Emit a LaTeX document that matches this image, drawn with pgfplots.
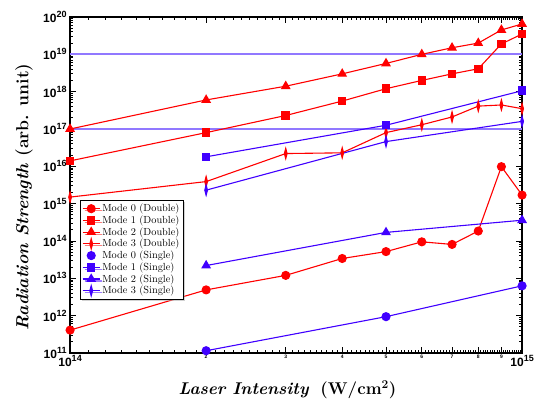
\documentclass[border=0pt]{standalone}
\usepackage{fontspec}
\setsansfont{Liberation Sans}
\usepackage{pgfplots}
\pgfplotsset{compat=1.18}
\usetikzlibrary{shadows}
\definecolor{myred}{RGB}{255,0,0}
\definecolor{myblue}{RGB}{64,0,255}
\definecolor{lav}{RGB}{145,120,255}
\newcommand{\ylab}[1]{{\sffamily\bfseries\fontsize{12}{12}\selectfont 10\raisebox{0.42em}{\fontsize{9}{9}\selectfont #1}}}
\newcommand{\xd}[1]{{\sffamily\bfseries\fontsize{5}{5}\selectfont #1}}
\begin{document}
\begin{tikzpicture}
\path[use as bounding box] (-70pt,-46pt) rectangle (468pt,353pt);
\begin{axis}[
  at={(0,0)}, anchor=south west,
  scale only axis, width=452pt, height=336pt,
  xmode=log, ymode=log,
  xmin=1e14, xmax=1e15, ymin=1e11, ymax=1e20,
  clip=false,
  axis line style={line width=1.5pt},
  every tick/.style={black, line width=0.9pt},
  major tick length=6pt, minor tick length=3pt,
  xtick={1e14,2e14,3e14,4e14,5e14,6e14,7e14,8e14,9e14,1e15},
  xticklabels={\ylab{14},\xd{2},\xd{3},\xd{4},\xd{5},\xd{6},\xd{7},\xd{8},\xd{9},\ylab{15}},
  xticklabel style={inner sep=2pt},
  minor xtick={1.1e14,1.2e14,1.3e14,1.4e14,1.5e14,1.6e14,1.7e14,1.8e14,1.9e14,
    2.1e14,2.2e14,2.3e14,2.4e14,2.5e14,2.6e14,2.7e14,2.8e14,2.9e14,
    3.1e14,3.2e14,3.3e14,3.4e14,3.5e14,3.6e14,3.7e14,3.8e14,3.9e14,
    4.1e14,4.2e14,4.3e14,4.4e14,4.5e14,4.6e14,4.7e14,4.8e14,4.9e14,
    5.1e14,5.2e14,5.3e14,5.4e14,5.5e14,5.6e14,5.7e14,5.8e14,5.9e14,
    6.1e14,6.2e14,6.3e14,6.4e14,6.5e14,6.6e14,6.7e14,6.8e14,6.9e14,
    7.1e14,7.2e14,7.3e14,7.4e14,7.5e14,7.6e14,7.7e14,7.8e14,7.9e14,
    8.1e14,8.2e14,8.3e14,8.4e14,8.5e14,8.6e14,8.7e14,8.8e14,8.9e14,
    9.1e14,9.2e14,9.3e14,9.4e14,9.5e14,9.6e14,9.7e14,9.8e14,9.9e14},
  ytick={1e11,1e12,1e13,1e14,1e15,1e16,1e17,1e18,1e19,1e20},
  yticklabels={\ylab{11},\ylab{12},\ylab{13},\ylab{14},\ylab{15},\ylab{16},\ylab{17},\ylab{18},\ylab{19},\ylab{20}},
  minor ytick={2e11,3e11,4e11,5e11,6e11,7e11,8e11,9e11,
    2e12,3e12,4e12,5e12,6e12,7e12,8e12,9e12,
    2e13,3e13,4e13,5e13,6e13,7e13,8e13,9e13,
    2e14,3e14,4e14,5e14,6e14,7e14,8e14,9e14,
    2e15,3e15,4e15,5e15,6e15,7e15,8e15,9e15,
    2e16,3e16,4e16,5e16,6e16,7e16,8e16,9e16,
    2e17,3e17,4e17,5e17,6e17,7e17,8e17,9e17,
    2e18,3e18,4e18,5e18,6e18,7e18,8e18,9e18,
    2e19,3e19,4e19,5e19,6e19,7e19,8e19,9e19},
  xlabel={\fontsize{17}{20}\selectfont\bfseries\itshape Laser Intensity\hspace{0.7em}\upshape (W/cm\textsuperscript{2})},
  xlabel style={at={(axis description cs:0.481,0)}, anchor=base, yshift=-42pt},
  ylabel={\fontsize{17.5}{20}\selectfont\bfseries\itshape Radiation Strength \upshape (arb. unit)},
  ylabel style={at={(axis description cs:-0.1018,0.465)}, anchor=center},
  legend cell align=left,
  legend style={at={(axis description cs:0.022,0.4554)}, anchor=north west,
    draw=black, line width=0.6pt, fill=white,
    drop shadow={shadow xshift=2pt, shadow yshift=-2pt, fill=gray!70},
    font=\fontsize{10.3}{11}\selectfont, row sep=-1.5pt, inner sep=1.8pt},
  every axis plot/.append style={line width=1.1pt},
]
\addplot[lav, line width=2.2pt, forget plot] coordinates {(1e14,1e19)(1e15,1e19)};
\addplot[lav, line width=1.1pt, forget plot] coordinates {(1e14,1e17)(1e15,1e17)};

\addplot[myred, mark=*, mark size=4pt] coordinates {
 (1e14,4.1e11)(2e14,4.9e12)(3e14,1.2e13)(4e14,3.4e13)(5e14,5.2e13)
 (6e14,9.5e13)(7e14,8.1e13)(8e14,1.85e14)(9e14,9.8e15)(1e15,1.7e15)};
\addlegendentry{Mode 0 (Double)}
\addplot[myred, mark=square*, mark size=3.7pt] coordinates {
 (1e14,1.4e16)(2e14,8e16)(3e14,2.3e17)(4e14,5.6e17)(5e14,1.2e18)
 (6e14,2e18)(7e14,3e18)(8e14,4.1e18)(9e14,1.9e19)(1e15,3.5e19)};
\addlegendentry{Mode 1 (Double)}
\addplot[myred, mark=triangle*, mark size=4.6pt] coordinates {
 (1e14,1e17)(2e14,6e17)(3e14,1.4e18)(4e14,3e18)(5e14,5.7e18)
 (6e14,1e19)(7e14,1.5e19)(8e14,2e19)(9e14,4.5e19)(1e15,6.5e19)};
\addlegendentry{Mode 2 (Double)}
\addplot[myred, mark=diamond*, mark size=3pt, mark options={xscale=0.6, yscale=1.7}] coordinates {
 (1e14,1.5e15)(2e14,3.9e15)(3e14,2.2e16)(4e14,2.3e16)(5e14,8e16)
 (6e14,1.3e17)(7e14,2.1e17)(8e14,4.1e17)(9e14,4.4e17)(1e15,3.5e17)};
\addlegendentry{Mode 3 (Double)}

\addplot[myblue, mark=*, mark size=4pt, legend image post style={only marks}] coordinates {
 (2e14,1.15e11)(5e14,9.4e11)(1e15,6.3e12)};
\addlegendentry{Mode 0 (Single)}
\addplot[myblue, mark=square*, mark size=3.7pt] coordinates {
 (2e14,1.8e16)(5e14,1.26e17)(1e15,1.06e18)};
\addlegendentry{Mode 1 (Single)}
\addplot[myblue, mark=triangle*, mark size=4.6pt] coordinates {
 (2e14,2.2e13)(5e14,1.7e14)(1e15,3.6e14)};
\addlegendentry{Mode 2 (Single)}
\addplot[myblue, mark=diamond*, mark size=3pt, mark options={xscale=0.6, yscale=1.7}] coordinates {
 (2e14,2.3e15)(5e14,4.6e16)(1e15,1.6e17)};
\addlegendentry{Mode 3 (Single)}
\end{axis}
\end{tikzpicture}
\end{document}
